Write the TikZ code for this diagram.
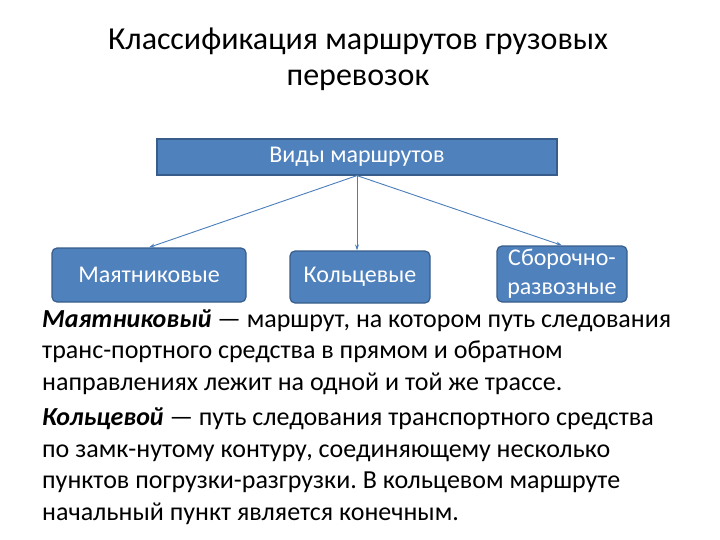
\documentclass[tikz,border=0pt]{standalone}
\usepackage{fontspec}
\setmainfont{Carlito}
\usetikzlibrary{arrows.meta}
\definecolor{boxblue}{HTML}{4F81BD}
\definecolor{boxline}{HTML}{385D8A}
\definecolor{arrowblue}{HTML}{4A7EBB}
\frenchspacing
\begin{document}
\begin{tikzpicture}[x=1pt,y=-1pt]
\useasboundingbox (0,0) rectangle (720,540);

\node (title) at (358,59) [align=center,font=\fontsize{32}{36}\selectfont]
    {Классификация маршрутов грузовых\\перевозок};

\begin{scope}[every node/.style={draw=boxline,fill=boxblue,line width=1.2pt,
              text=white,font=\fontsize{24}{26}\selectfont,inner sep=0pt}]
    \node (vidy) [minimum width=400,minimum height=36] at (357,157) {Виды маршрутов};
    \node (majat) [rounded corners=5pt,minimum width=194,minimum height=54] at (149,275) {Маятниковые};
    \node (kolc) [rounded corners=5pt,minimum width=140,minimum height=52] at (360,277) {Кольцевые};
    \node (sbor) [rounded corners=5pt,minimum width=130,minimum height=56,align=center,
                  font=\fontsize{24}{29}\selectfont] at (562,274) {Сборочно-\\развозные};
\end{scope}

\begin{scope}[every edge/.style={draw=arrowblue,line width=0.9pt,-{Stealth[length=6pt,width=4pt]}}]
    \path (vidy.south) edge (majat.north);
    \path (vidy.south) edge (kolc.north -| vidy.south);
    \path (vidy.south) edge (sbor.north);
\end{scope}

\begin{scope}[every node/.style={anchor=west,align=left,inner sep=0pt,
              font=\fontsize{26}{31.5}\selectfont}]
    \node (majattxt) at (42,352) {\textbf{\textit{Маятниковый}} — маршрут, на котором путь следования\\
        транс-портного средства в прямом и обратном\\
        направлениях лежит на одной и той же трассе.};
    \node (kolctxt) at (42,466) {\textbf{\textit{Кольцевой}} — путь следования транспортного средства\\
        по замк-нутому контуру, соединяющему несколько\\
        пунктов погрузки-разгрузки. В кольцевом маршруте\\
        начальный пункт является конечным.};
\end{scope}
\end{tikzpicture}
\end{document}
